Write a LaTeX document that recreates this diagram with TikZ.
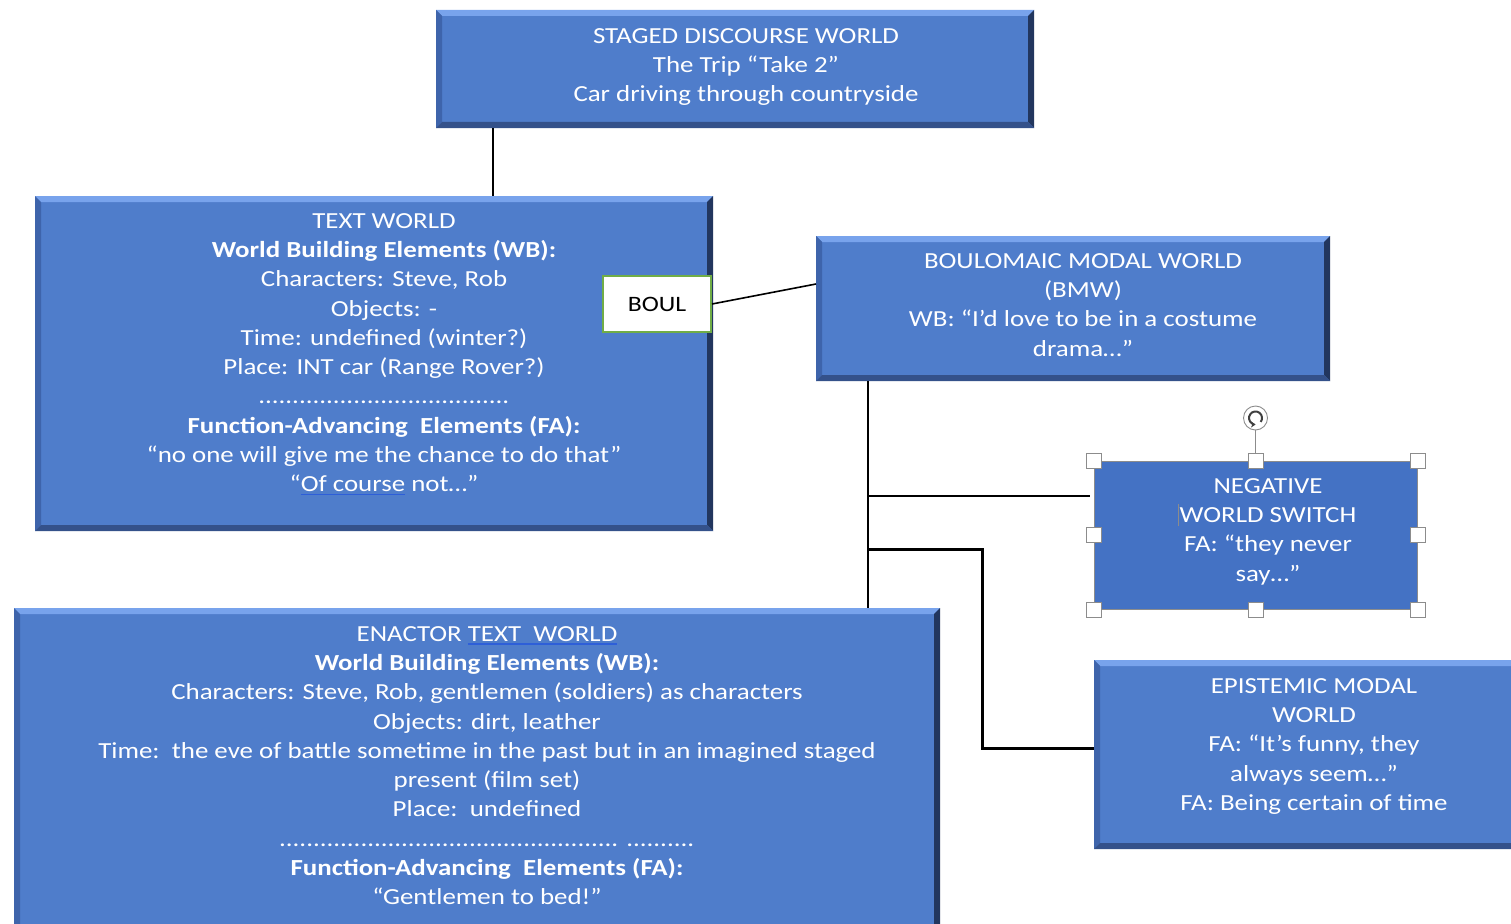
\documentclass[tikz,border=0pt]{standalone}
\usepackage{fontspec}
\setmainfont{Carlito}[FakeStretch=1.17]
\usetikzlibrary{calc,arrows.meta}

\definecolor{boxblue}{HTML}{4F7DCB}
\definecolor{negblue}{HTML}{4472C4}
\definecolor{bevtop}{HTML}{78A3EC}
\definecolor{bevleft}{HTML}{3E64AB}
\definecolor{bevright}{HTML}{22365E}
\definecolor{bevbottom}{HTML}{34518A}
\definecolor{boulgreen}{HTML}{70AD47}
\definecolor{ulblue}{HTML}{2E5FD8}
\definecolor{handlegray}{HTML}{8C8C8C}

% blue grammar underline under a word group
\newcommand\gramul[1]{\sbox0{#1}\rlap{\textcolor{ulblue}{\rule[-3.5pt]{\wd0}{1.3pt}}}\usebox0}
% text caret
\newcommand\caret{\llap{\textcolor{handlegray}{\rule[-4pt]{0.9pt}{22pt}}\kern1pt}}

% bevelled edges of a box node
\newcommand\bevelframe[1]{%
  \fill[bevtop] (#1.north west) -- (#1.north east) -- ($(#1.north east)+(-6,6)$) -- ($(#1.north west)+(6,6)$) -- cycle;
  \fill[bevleft] (#1.north west) -- ($(#1.north west)+(6,6)$) -- ($(#1.south west)+(6,-6)$) -- (#1.south west) -- cycle;
  \fill[bevright] (#1.north east) -- (#1.south east) -- ($(#1.south east)+(-6,-6)$) -- ($(#1.north east)+(-6,6)$) -- cycle;
  \fill[bevbottom] (#1.south west) -- (#1.south east) -- ($(#1.south east)+(-6,-6)$) -- ($(#1.south west)+(6,-6)$) -- cycle;
}

\tikzset{
  worldbox/.style={rectangle, fill=boxblue, inner sep=0pt, outer sep=0pt},
  worldtext/.style={text=white, align=center, inner sep=0pt, anchor=north,
                    font=\fontsize{23}{29.3}\selectfont},
  link/.style={draw=black, line width=2pt},
  handle/.style={rectangle, draw=handlegray, fill=white, line width=0.9pt,
                 minimum size=15pt, inner sep=0pt},
}

\begin{document}
\begin{tikzpicture}[x=1pt,y=-1pt]
\clip (0,0) rectangle (1511,923);
\fill[white] (0,0) rectangle (1511,923);

% ---------- boxes ----------
\node[worldbox, minimum width=598pt, minimum height=118pt] (sdw) at (735,69) {};
\bevelframe{sdw}
\node[worldtext] (sdwt) at (746,28) {STAGED DISCOURSE WORLD\\The Trip “Take 2”\\Car driving through countryside};

\node[worldbox, minimum width=678pt, minimum height=335pt] (tw) at (374,363.5) {};
\bevelframe{tw}
\node[worldtext] (twt) at (384,213) {TEXT WORLD\\
\textbf{World Building Elements (WB):}\\
Characters: Steve, Rob\\
Objects: -\\
Time: undefined (winter?)\\
Place: INT car (Range Rover?)\\
.....................................\\
\textbf{Function-Advancing\ \ Elements (FA):}\\
“no one will give me the chance to do that”\\
“\gramul{Of course} not…”};

\node[rectangle, draw=boulgreen, line width=2pt, fill=white, minimum width=108pt,
      minimum height=56pt, inner sep=0pt, font=\fontsize{22}{26}\selectfont] (boul) at (657,304) {BOUL};

\node[worldbox, minimum width=514pt, minimum height=145pt] (bmw) at (1073,308.5) {};
\bevelframe{bmw}
\node[worldtext] (bmwt) at (1083,253) {BOULOMAIC MODAL WORLD\\(BMW)\\WB: “I’d love to be in a costume\\drama…”};

\node[rectangle, fill=negblue, draw=handlegray, line width=1pt, minimum width=323pt,
      minimum height=148pt, inner sep=0pt] (neg) at (1255.5,535) {};
\node[worldtext] (negt) at (1268,478) {NEGATIVE\\\caret WORLD SWITCH\\FA: “they never\\say…”};

\node[worldbox, minimum width=926pt, minimum height=330pt] (etw) at (477,773) {};
\bevelframe{etw}
\node[worldtext] (etwt) at (487,626) {ENACTOR \gramul{TEXT\ \ WORLD}\\
\textbf{World Building Elements (WB):}\\
Characters: Steve, Rob, gentlemen (soldiers) as characters\\
Objects: dirt, leather\\
Time:\ \ the eve of battle sometime in the past but in an imagined staged\\
present (film set)\\
Place:\ \ undefined\\
.................................................. ..........\\
\textbf{Function-Advancing\ \ Elements (FA):}\\
“Gentlemen to bed!”};

\node[worldbox, minimum width=436pt, minimum height=189pt] (epi) at (1312,754.5) {};
\bevelframe{epi}
\node[worldtext] (epit) at (1314,678) {EPISTEMIC MODAL\\WORLD\\FA: “It’s funny, they\\always seem…”\\FA: Being certain of time};

% ---------- connectors ----------
\coordinate (c1) at (493,0);
\draw[link] (sdw.south -| c1) -- (tw.north -| c1);
\draw[link, line width=1.6pt] (boul.east) -- ($(bmw.north west)+(0,48)$);
\coordinate (trunk) at (868,0);
\draw[link] (bmw.south -| trunk) -- (etw.north -| trunk);
\coordinate (negin) at ($(neg.north west)+(-4,35)$);
\draw[link] (negin -| trunk) -- (negin);
\coordinate (bend) at (982,549);
\coordinate (epiin) at ($(epi.north west)+(0,88)$);
\draw[link, line width=3pt] (bend -| trunk) -- (bend) |- (epiin);

% ---------- selection handles ----------
\foreach \a/\i in {north west/1, north/2, north east/3, east/4, south east/5, south/6, south west/7, west/8}
  \node[handle] (h\i) at (neg.\a) {};
\node[circle, draw=handlegray, fill=white, line width=0.9pt, minimum size=24pt, inner sep=0pt] (rot) at (1255.5,418) {};
\draw[handlegray, line width=1.2pt] (rot.south) -- (h2.north);
\draw[black!75, line width=2pt, -{Stealth[length=4.5pt,width=6pt]}]
  ($(rot)+(5.2,3.9)$) arc[start angle=37, end angle=-270, radius=6.5];
\end{tikzpicture}
\end{document}
